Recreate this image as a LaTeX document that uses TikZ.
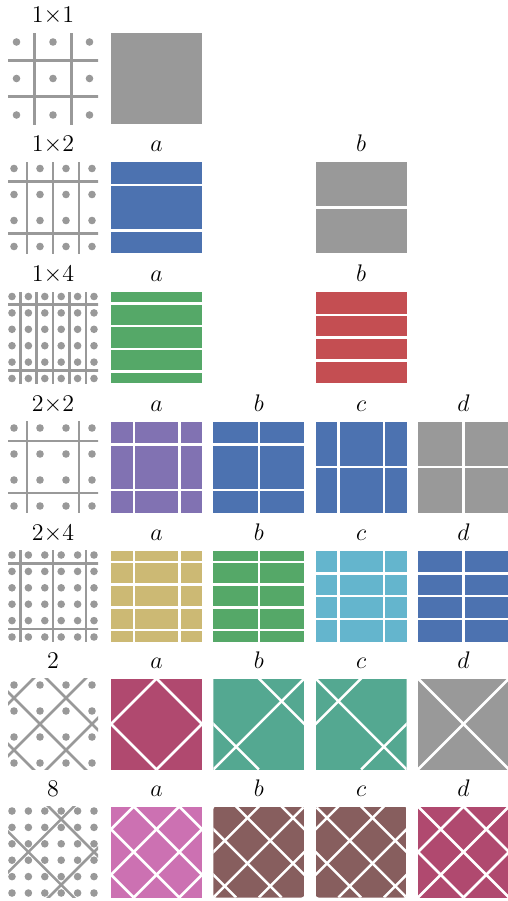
\documentclass[tikz,border=0pt]{standalone}
\usepackage{tikz}
\definecolor{latGray}{RGB}{153,153,153}
\definecolor{sbBlue}{RGB}{76,114,176}
\definecolor{sbGreen}{RGB}{85,168,104}
\definecolor{sbRed}{RGB}{196,78,82}
\definecolor{sbPurple}{RGB}{129,114,178}
\definecolor{sbKhaki}{RGB}{204,185,116}
\definecolor{sbCyan}{RGB}{100,181,205}
\definecolor{sbCrimson}{RGB}{176,73,111}
\definecolor{sbTeal}{RGB}{84,168,145}
\definecolor{sbPink}{RGB}{204,113,178}
\definecolor{sbBrown}{RGB}{135,94,94}
\tikzset{
  wline/.style={white, line width=1.25pt},
  gline/.style={latGray, line width=1.3pt},
  lbl/.style={anchor=base, font=\large},
}
\newcommand{\latthumb}[6]{%
  \begin{scope}[shift={(#1,#2)}]
    \clip (-45,-45.5) rectangle (45,45.5);
    \foreach \i in {#4} \foreach \j in {#4} \fill[latGray] ({\i*#3},{\j*#3}) circle[radius=1.9pt];
    \foreach \i in {#5} \draw[gline] ({\i*#3},-50) -- ({\i*#3},50);
    \foreach \j in {#6} \draw[gline] (-50,{\j*#3}) -- (50,{\j*#3});
  \end{scope}}
\newcommand{\diagthumb}[6]{%
  \begin{scope}[shift={(#1,#2)}]
    \clip (-45,-45.5) rectangle (45,45.5);
    \foreach \i in {#4} \foreach \j in {#4} \fill[latGray] ({\i*#3},{\j*#3}) circle[radius=1.9pt];
    \foreach \sv in {#5} \draw[gline] ({\sv*#3+60},-60) -- ({\sv*#3-60},60);
    \foreach \dv in {#6} \draw[gline] ({\dv*#3-60},-60) -- ({\dv*#3+60},60);
  \end{scope}}
\newcommand{\gridsq}[5]{%
  \begin{scope}[shift={(#1,#2)}]
    \fill[#3] (0,0) rectangle (91,91);
    \foreach \u in {#4} \draw[wline] ({91*\u},0) -- ({91*\u},91);
    \foreach \v in {#5} \draw[wline] (0,{91*\v}) -- (91,{91*\v});
  \end{scope}}
\newcommand{\diagsq}[6]{%
  \begin{scope}[shift={(#1,#2)}]
    \clip[#4] (0,0) rectangle (91,91);
    \fill[#3] (0,0) rectangle (91,91);
    \foreach \sv in {#5} \draw[wline] ({91*(\sv+1)},-91) -- ({91*(\sv-1)},91);
    \foreach \dv in {#6} \draw[wline] ({91*(\dv-1)},-91) -- ({91*(\dv+1)},91);
  \end{scope}}

\begin{document}
\begin{tikzpicture}[x=0.5pt, y=-0.5pt]
\useasboundingbox (0,0) rectangle (508,901);

\node[lbl] (r1) at (53,22.5) {$1{\times}1$};
\latthumb{53}{78.5}{36.5}{-1,0,1}{-0.5,0.5}{-0.5,0.5}
\fill[latGray] (111,33) rectangle ++(91,91);

\node[lbl] (r2) at (53,151.5) {$1{\times}2$};
\foreach \x/\n in {156.5/a,361.2/b} \node[lbl] (r2\n) at (\x,151.5) {$\n$};
\latthumb{53}{207.5}{26}{-1.5,-0.5,0.5,1.5}{-1,0,1}{-1,1}
\gridsq{111}{162}{sbBlue}{}{0.25,0.75}
\gridsq{315.7}{162}{latGray}{}{0.5}

\node[lbl] (r3) at (53,281.5) {$1{\times}4$};
\foreach \x/\n in {156.5/a,361.2/b} \node[lbl] (r3\n) at (\x,281.5) {$\n$};
\latthumb{53}{337.5}{16.4}{-2.5,-1.5,-0.5,0.5,1.5,2.5}{-2,-1,0,1,2}{-2,2}
\gridsq{111}{292}{sbGreen}{}{0.125,0.375,0.625,0.875}
\gridsq{315.7}{292}{sbRed}{}{0.25,0.5,0.75}

\node[lbl] (r4) at (53,411) {$2{\times}2$};
\foreach \x/\n in {156.5/a,258.8/b,361.2/c,463.5/d} \node[lbl] (r4\n) at (\x,411) {$\n$};
\latthumb{53}{467}{26}{-1.5,-0.5,0.5,1.5}{-1,1}{-1,1}
\gridsq{111}{421.5}{sbPurple}{0.25,0.75}{0.25,0.75}
\gridsq{213.3}{421.5}{sbBlue}{0.5}{0.25,0.75}
\gridsq{315.7}{421.5}{sbBlue}{0.25,0.75}{0.5}
\gridsq{418}{421.5}{latGray}{0.5}{0.5}

\node[lbl] (r5) at (53,540) {$2{\times}4$};
\foreach \x/\n in {156.5/a,258.8/b,361.2/c,463.5/d} \node[lbl] (r5\n) at (\x,540) {$\n$};
\latthumb{53}{596}{16.4}{-2.5,-1.5,-0.5,0.5,1.5,2.5}{-2,0,2}{-2,2}
\gridsq{111}{550.5}{sbKhaki}{0.25,0.75}{0.125,0.375,0.625,0.875}
\gridsq{213.3}{550.5}{sbGreen}{0.5}{0.125,0.375,0.625,0.875}
\gridsq{315.7}{550.5}{sbCyan}{0.25,0.75}{0.25,0.5,0.75}
\gridsq{418}{550.5}{sbBlue}{0.5}{0.25,0.5,0.75}

\node[lbl] (r6) at (53,668) {$2$};
\foreach \x/\n in {156.5/a,258.8/b,361.2/c,463.5/d} \node[lbl] (r6\n) at (\x,668) {$\n$};
\diagthumb{53}{724}{26}{-1.5,-0.5,0.5,1.5}{-2.5,-0.5,1.5}{-2.5,-0.5,1.5}
\diagsq{111}{678.5}{sbCrimson}{sharp corners}{0.5,1.5}{-0.5,0.5}
\diagsq{213.3}{678.5}{sbTeal}{sharp corners}{1}{-0.5,0.5}
\diagsq{315.7}{678.5}{sbTeal}{sharp corners}{0.5,1.5}{0}
\diagsq{418}{678.5}{latGray}{sharp corners}{1}{0}

\node[lbl] (r7) at (53,796) {$8$};
\foreach \x/\n in {156.5/a,258.8/b,361.2/c,463.5/d} \node[lbl] (r7\n) at (\x,796) {$\n$};
\diagthumb{53}{852}{16.4}{-2.5,-1.5,-0.5,0.5,1.5,2.5}{-1.5,2.5}{-1.5,2.5}
\diagsq{111}{806.5}{sbPink}{sharp corners}{0.25,0.75,1.25,1.75}{-0.75,-0.25,0.25,0.75}
\diagsq{213.3}{806.5}{sbBrown}{rounded corners=1.5pt}{0.5,1,1.5}{-0.75,-0.25,0.25,0.75}
\diagsq{315.7}{806.5}{sbBrown}{rounded corners=1.5pt}{0.25,0.75,1.25,1.75}{-0.5,0,0.5}
\diagsq{418}{806.5}{sbCrimson}{sharp corners}{0.5,1,1.5}{-0.5,0,0.5}
\end{tikzpicture}
\end{document}
